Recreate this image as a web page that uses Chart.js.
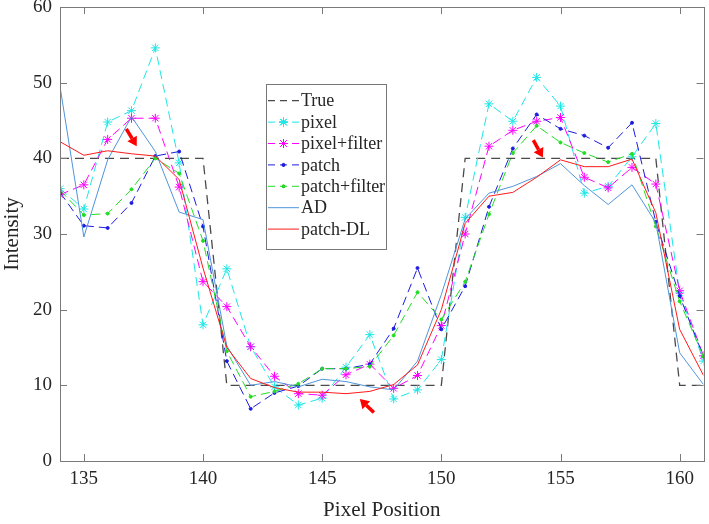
<!DOCTYPE html>
<html>
<head>
<meta charset="utf-8">
<script src="https://cdn.jsdelivr.net/npm/chart.js@4.4.1/dist/chart.umd.min.js"></script>
<style>
  body { margin: 0; background: #fff; }
  #wrap { width: 709px; height: 524px; position: relative; }
</style>
</head>
<body>
<div id="wrap"><canvas id="canvas"></canvas></div>
<script>
// pixel positions along the profile
var xPos = [134,135,136,137,138,139,140,141,142,143,144,145,146,147,
            148,149,150,151,152,153,154,155,156,157,158,159,160,161];
var xTicks = [135,140,145,150,155,160];
var yTicks = [0,10,20,30,40,50,60];

var trueVals   = [40,40,40,40,40,40,40,10,10,10,10,10,10,10,
                  10,10,10,40,40,40,40,40,40,40,40,40,10,10];
var pixel      = [36.0,33.3,44.8,46.3,54.6,39.4,18.0,25.4,15.1,9.8,7.4,8.3,12.4,16.7,
                  8.2,9.4,13.4,32.2,47.2,44.9,50.7,46.9,35.4,36.3,40.2,44.6,22.2,13.2];
var pixelFilt  = [35.2,36.5,42.5,45.3,45.3,36.2,23.7,20.4,15.1,11.2,8.9,8.7,11.4,12.8,
                  9.6,11.3,17.9,30.0,41.6,43.7,44.9,45.4,37.5,36.1,38.8,36.6,22.5,13.9];
var patch      = [35.5,31.1,30.8,34.1,40.3,40.9,31.0,13.2,6.9,9.0,9.9,12.2,12.2,12.8,
                  17.5,25.5,17.4,23.1,33.6,41.3,45.8,43.9,43.0,41.4,44.7,31.6,21.8,13.8];
var patchFilt  = [35.8,32.5,32.7,35.9,40.0,38.0,29.1,14.5,8.5,9.2,10.2,12.2,12.2,12.5,
                  16.6,22.3,18.7,23.7,32.6,40.7,44.3,42.1,40.7,39.5,40.6,31.0,21.1,13.8];
var adVals     = [49.5,29.6,39.8,45.5,40.9,32.9,31.9,15.2,10.0,10.5,9.8,10.8,10.5,9.8,
                  9.4,13.2,22.0,32.0,35.4,36.3,37.6,39.3,36.4,33.9,36.5,31.5,14.3,10.1];
var patchDL    = [42.2,40.4,41.0,40.6,40.3,37.2,25.5,15.0,10.9,9.7,9.1,9.1,8.9,9.2,
                  10.1,12.7,20.0,31.4,35.0,35.5,37.5,39.8,38.9,38.9,39.9,32.8,17.4,11.3];

var seriesNames = ['True','pixel','pixel+filter','patch','patch+filter','AD','patch-DL'];

// red arrows: [tailX, tailY, tipX, tipY] in data units
var arrows = [
  [136.78, 43.9, 137.22, 41.6],
  [153.86, 42.4, 154.26, 40.1],
  [147.17, 6.4, 146.58, 8.2]
];

var serif = "'Liberation Serif', 'Times New Roman', serif";
var axisColor = '#7a7a7a';
var textColor = '#262626';

function pts(vals) {
  return xPos.map(function (x, i) { return { x: x, y: vals[i] }; });
}

function makeSet(label, vals, color, dash, style, radius, order, width) {
  return {
    label: label,
    data: pts(vals),
    borderColor: color,
    backgroundColor: color,
    pointBorderColor: color,
    pointBackgroundColor: color,
    borderWidth: width || 1,
    borderDash: dash,
    pointStyle: style,
    pointRadius: radius,
    pointBorderWidth: 1,
    pointHoverRadius: radius,
    tension: 0,
    fill: false,
    order: order
  };
}

var datasets = [
  makeSet(seriesNames[0], trueVals, '#4a4a4a', [9, 6], 'circle', 0, 7, 1.3),
  makeSet(seriesNames[1], pixel, '#1ee6e6', [9, 5], 'star', 4.5, 6),
  makeSet(seriesNames[2], pixelFilt, '#ff00ff', [9, 5], 'star', 4.5, 5),
  makeSet(seriesNames[3], patch, '#1c1ce0', [9, 5], 'circle', 1.5, 4),
  makeSet(seriesNames[4], patchFilt, '#22dd22', [9, 5], 'circle', 1.5, 3),
  makeSet(seriesNames[5], adVals, '#4f94da', [], 'circle', 0, 2),
  makeSet(seriesNames[6], patchDL, '#ff1a1a', [], 'circle', 0, 1)
];

function noPad(s) {
  s.paddingTop = 0; s.paddingBottom = 0; s.paddingLeft = 0; s.paddingRight = 0;
}

// box, inward ticks, arrows and legend
var decor = {
  id: 'decor',
  afterDatasetsDraw: function (chart) {
    var ctx = chart.ctx, x = chart.scales.x, y = chart.scales.y;
    ctx.save();
    ctx.strokeStyle = '#ff0000';
    ctx.fillStyle = '#ff0000';
    arrows.forEach(function (a) {
      var x0 = x.getPixelForValue(a[0]), y0 = y.getPixelForValue(a[1]);
      var x1 = x.getPixelForValue(a[2]), y1 = y.getPixelForValue(a[3]);
      var dx = x1 - x0, dy = y1 - y0, len = Math.sqrt(dx * dx + dy * dy);
      var ux = dx / len, uy = dy / len;
      var bx = x1 - ux * 9, by = y1 - uy * 9;
      ctx.lineWidth = 3.5;
      ctx.beginPath();
      ctx.moveTo(x0, y0);
      ctx.lineTo(bx, by);
      ctx.stroke();
      ctx.beginPath();
      ctx.moveTo(x1, y1);
      ctx.lineTo(bx - uy * 5.5, by + ux * 5.5);
      ctx.lineTo(bx + uy * 5.5, by - ux * 5.5);
      ctx.closePath();
      ctx.fill();
    });
    ctx.restore();
  },
  afterDraw: function (chart) {
    var ctx = chart.ctx, a = chart.chartArea, x = chart.scales.x, y = chart.scales.y;
    ctx.save();
    ctx.strokeStyle = axisColor;
    ctx.lineWidth = 1;
    ctx.strokeRect(Math.round(a.left) + 0.5, Math.round(a.top) + 0.5,
                   Math.round(a.right - a.left), Math.round(a.bottom - a.top));
    ctx.beginPath();
    xTicks.forEach(function (v) {
      var px = Math.round(x.getPixelForValue(v)) + 0.5;
      ctx.moveTo(px, a.bottom); ctx.lineTo(px, a.bottom - 7);
      ctx.moveTo(px, a.top); ctx.lineTo(px, a.top + 7);
    });
    yTicks.forEach(function (v) {
      var py = Math.round(y.getPixelForValue(v)) + 0.5;
      ctx.moveTo(a.left, py); ctx.lineTo(a.left + 7, py);
      ctx.moveTo(a.right, py); ctx.lineTo(a.right - 7, py);
    });
    ctx.stroke();

    // legend
    var lx = a.left + 206, ly = a.top + 77, lw = 120, lh = 165;
    ctx.fillStyle = '#ffffff';
    ctx.fillRect(lx, ly, lw, lh);
    ctx.strokeStyle = '#777777';
    ctx.strokeRect(lx + 0.5, ly + 0.5, lw, lh);
    ctx.font = '18px ' + serif;
    ctx.textBaseline = 'middle';
    chart.data.datasets.forEach(function (ds, i) {
      var ry = ly + 16.7 + i * 21.4;
      ctx.strokeStyle = ds.borderColor;
      ctx.lineWidth = ds.borderWidth;
      ctx.setLineDash(ds.borderDash.length ? [7, 5] : []);
      ctx.beginPath();
      ctx.moveTo(lx + 2, ry);
      ctx.lineTo(lx + 33, ry);
      ctx.stroke();
      ctx.setLineDash([]);
      if (ds.pointRadius > 0) {
        Chart.helpers.drawPoint(ctx, {
          pointStyle: ds.pointStyle, radius: ds.pointRadius, borderWidth: 1
        }, lx + 17.5, ry);
        ctx.fillStyle = ds.borderColor;
        ctx.lineWidth = 1;
        ctx.beginPath();
        if (ds.pointStyle === 'star') {
          ctx.strokeStyle = ds.borderColor;
          Chart.helpers.drawPoint(ctx, { pointStyle: 'star', radius: ds.pointRadius, borderWidth: 1 }, lx + 17.5, ry);
          ctx.stroke();
        } else {
          ctx.arc(lx + 17.5, ry, ds.pointRadius, 0, Math.PI * 2);
          ctx.fill();
        }
      }
      ctx.fillStyle = textColor;
      ctx.fillText(ds.label, lx + 35, ry + 1);
    });
    ctx.restore();
  }
};

var ctx = document.getElementById('canvas').getContext('2d');
var myChart = new Chart(ctx, {
  type: 'line',
  data: { datasets: datasets },
  plugins: [decor],
  options: {
    responsive: true,
    maintainAspectRatio: false,
    animation: false,
    layout: { padding: { left: 0, top: 7, right: 4, bottom: 0 } },
    plugins: {
      legend: { display: false },
      tooltip: { enabled: false }
    },
    scales: {
      x: {
        type: 'linear',
        min: 134,
        max: 161,
        grid: { display: false, drawTicks: false },
        border: { display: false },
        afterBuildTicks: function (s) { s.ticks = xTicks.map(function (v) { return { value: v }; }); },
        afterFit: function (s) { s.height = 63; noPad(s); },
        ticks: {
          autoSkip: false, maxRotation: 0, padding: 7, color: textColor,
          font: { family: serif, size: 19 }
        },
        title: {
          display: true, text: 'Pixel Position', color: textColor,
          font: { family: serif, size: 21 }, padding: { top: 0, bottom: 1 }
        }
      },
      y: {
        min: 0,
        max: 60,
        grid: { display: false, drawTicks: false },
        border: { display: false },
        afterBuildTicks: function (s) { s.ticks = yTicks.map(function (v) { return { value: v }; }); },
        afterFit: function (s) { s.width = 60; noPad(s); },
        ticks: {
          padding: 8, color: textColor,
          font: { family: serif, size: 19 }
        },
        title: {
          display: true, text: 'Intensity', color: textColor,
          font: { family: serif, size: 21 }, padding: { top: 0, bottom: 0 }
        }
      }
    }
  }
});
</script>
</body>
</html>
